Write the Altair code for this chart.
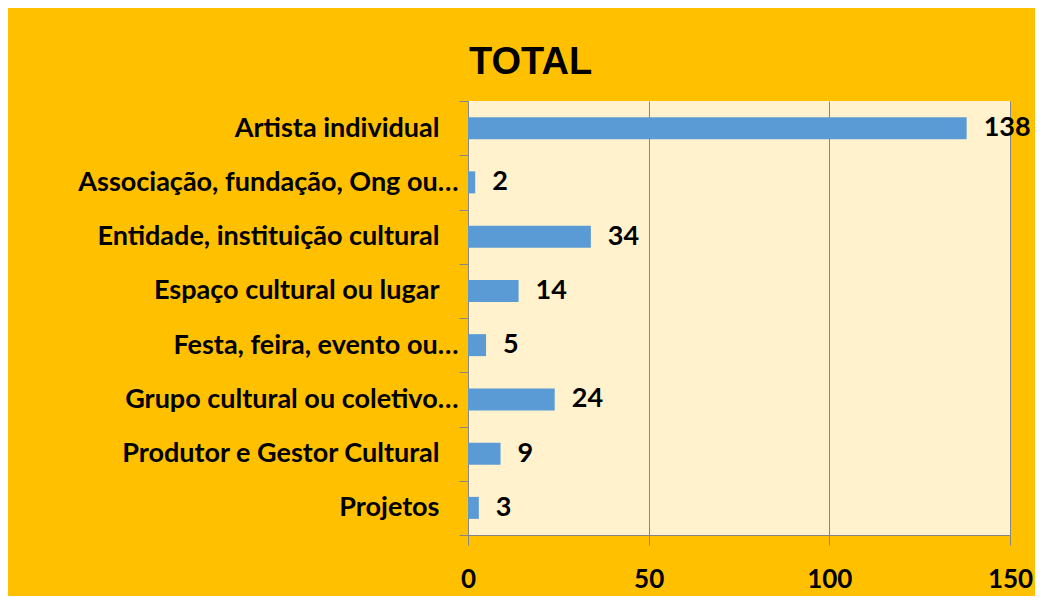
import altair as alt
import pandas as pd

categories = [
    "Artista individual",
    "Associação, fundação, Ong ou…",
    "Entidade, instituição cultural",
    "Espaço cultural ou lugar",
    "Festa, feira, evento ou…",
    "Grupo cultural ou coletivo…",
    "Produtor e Gestor Cultural",
    "Projetos",
]
values = [138, 2, 34, 14, 5, 24, 9, 3]
x_ticks = [0, 50, 100, 150]

df = pd.DataFrame({"cat": categories, "val": values})

FONT = "Lato"
GRAY = "#868686"

y_enc = alt.Y(
    "cat:N",
    sort=categories,
    scale=alt.Scale(paddingInner=0, paddingOuter=0),
    axis=alt.Axis(
        title=None,
        labelFont=FONT,
        labelFontWeight="bold",
        labelFontSize=27,
        labelColor="#000000",
        labelPadding={
            "condition": {"test": "indexof(datum.label, '…') >= 0", "value": 1},
            "value": 20,
        },
        labelLimit=0,
        tickBand="extent",
        tickSize=9,
        tickColor=GRAY,
        domainColor=GRAY,
        grid=False,
    ),
)

x_enc = alt.X(
    "val:Q",
    scale=alt.Scale(domain=[0, 150], nice=False),
    axis=alt.Axis(
        title=None,
        values=x_ticks,
        labelFont=FONT,
        labelFontWeight="bold",
        labelFontSize=26,
        labelColor="#000000",
        labelPadding=21,
        tickSize=10,
        tickColor=GRAY,
        domainColor=GRAY,
        grid=True,
        gridColor=GRAY,
        labelFlush=False,
    ),
)

bars = alt.Chart(df).mark_bar(color="#5B9BD5", size=22).encode(x=x_enc, y=y_enc)

labels = alt.Chart(df).mark_text(
    align="left",
    baseline="middle",
    dx=17,
    font=FONT,
    fontWeight="bold",
    fontSize=27,
    color="#000000",
).encode(x="val:Q", y=alt.Y("cat:N", sort=categories), text="val:Q")

chart = (
    alt.layer(bars, labels)
    .properties(
        width=542,
        height=434,
        background="#FFC000",
        padding={"left": 460, "top": 93, "right": 25, "bottom": 61},
        autosize=alt.AutoSizeParams(type="none"),
        title=alt.TitleParams(
            "TOTAL",
            anchor="start",
            frame="group",
            dx=1,
            offset=5,
            font="Liberation Sans",
            fontSize=38,
            fontWeight="bold",
            color="#000000",
        ),
    )
    .configure_view(fill="#FFF2CC", stroke=None)
)

chart.save("out.html", embed_options={"renderer": "svg", "actions": False})
